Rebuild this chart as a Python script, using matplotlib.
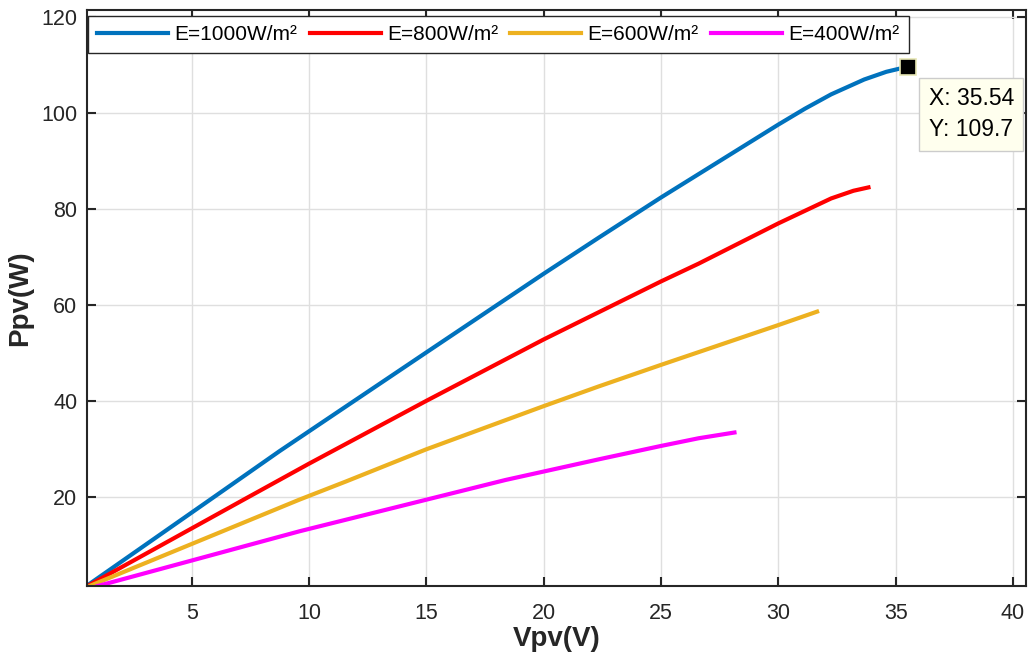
import numpy as np
import matplotlib
matplotlib.use('Agg')
import matplotlib.pyplot as plt

plt.rcParams['font.family'] = ['Liberation Sans', 'DejaVu Sans']

# P-V curves of the PV module at four irradiance levels
v_1000 = [0.55, 5.76, 8.74, 15.0, 20.0, 22.34, 25.0, 30.0, 31.13, 32.25, 33.66, 34.6, 35.54]
p_1000 = [1.5, 19.3, 29.5, 50.1, 66.5, 74.0, 82.4, 97.6, 100.9, 103.9, 107.0, 108.6, 109.7]

v_800 = [0.6, 7.18, 10.0, 15.0, 20.0, 25.0, 26.6, 30.0, 32.25, 33.2, 33.84]
p_800 = [1.5, 19.3, 26.9, 40.0, 52.8, 64.9, 68.6, 77.0, 82.2, 83.8, 84.5]

v_600 = [0.7, 9.59, 11.58, 15.0, 20.0, 22.34, 25.0, 30.0, 31.65]
p_600 = [1.5, 19.4, 23.2, 29.9, 38.9, 43.0, 47.5, 55.8, 58.6]

v_400 = [1.0, 9.59, 18.37, 22.34, 25.0, 26.6, 28.13]
p_400 = [1.4, 12.8, 23.5, 27.8, 30.6, 32.2, 33.4]

labels = ['E=1000W/m²', 'E=800W/m²', 'E=600W/m²', 'E=400W/m²']
colors = ['#0072BD', '#FF0000', '#EDB120', '#FF00FF']

# data tip on the 1000 W/m² curve
tip_v = v_1000[-1]
tip_p = p_1000[-1]

fig = plt.figure(figsize=(10.28, 6.62), dpi=100)
ax = fig.add_axes([0.0846, 0.1148, 0.9134, 0.8702])

curves = [(v_1000, p_1000), (v_800, p_800), (v_600, p_600), (v_400, p_400)]
for (v, p), lab, c in zip(curves, labels, colors):
    ax.plot(v, p, color=c, lw=3, label=lab, solid_joinstyle='round')

ax.set_xlim(0.54, 40.55)
ax.set_ylim(1.4, 121.5)
ax.set_xticks(np.arange(5, 41, 5))
ax.set_yticks(np.arange(20, 121, 20))

dark = '#262626'
ax.grid(True, color='#dfdfdf', lw=1)
ax.set_axisbelow(True)
for s in ax.spines.values():
    s.set_color(dark)
    s.set_linewidth(1.5)
ax.tick_params(direction='in', length=6.5, width=1.5, color=dark,
               top=True, right=True, labelsize=15.5, labelcolor=dark)
ax.tick_params(axis='x', pad=12)
ax.tick_params(axis='y', pad=7)

ax.set_xlabel('Vpv(V)', fontsize=20, fontweight='bold', color=dark, labelpad=2)
ax.set_ylabel('Ppv(W)', fontsize=20, fontweight='bold', color=dark, labelpad=6)

leg = ax.legend(loc='upper left', bbox_to_anchor=(0.001, 0.99), borderaxespad=0,
                ncol=4, fontsize=15, handlelength=3.4, handletextpad=0.3,
                columnspacing=0.6, borderpad=0.45, fancybox=False,
                framealpha=1, edgecolor=dark)
leg.get_frame().set_linewidth(1.0)

# data tip marker and box
ax.plot([tip_v], [tip_p], marker='s', ms=11.5, mfc='black', mec='#e6e6b4',
        mew=1.2, zorder=5, clip_on=False)
ax.annotate(f'X: {tip_v:.2f}\nY: {tip_p:.1f}', xy=(tip_v, tip_p),
            xytext=(14.5, -15), textcoords='offset points', ha='left', va='top',
            fontsize=16.5, color='black', linespacing=1.45, annotation_clip=False,
            bbox=dict(boxstyle='square,pad=0.4', fc='#ffffee', ec='#cccccc', lw=1),
            zorder=6)

fig.savefig('out.png', dpi=100)
